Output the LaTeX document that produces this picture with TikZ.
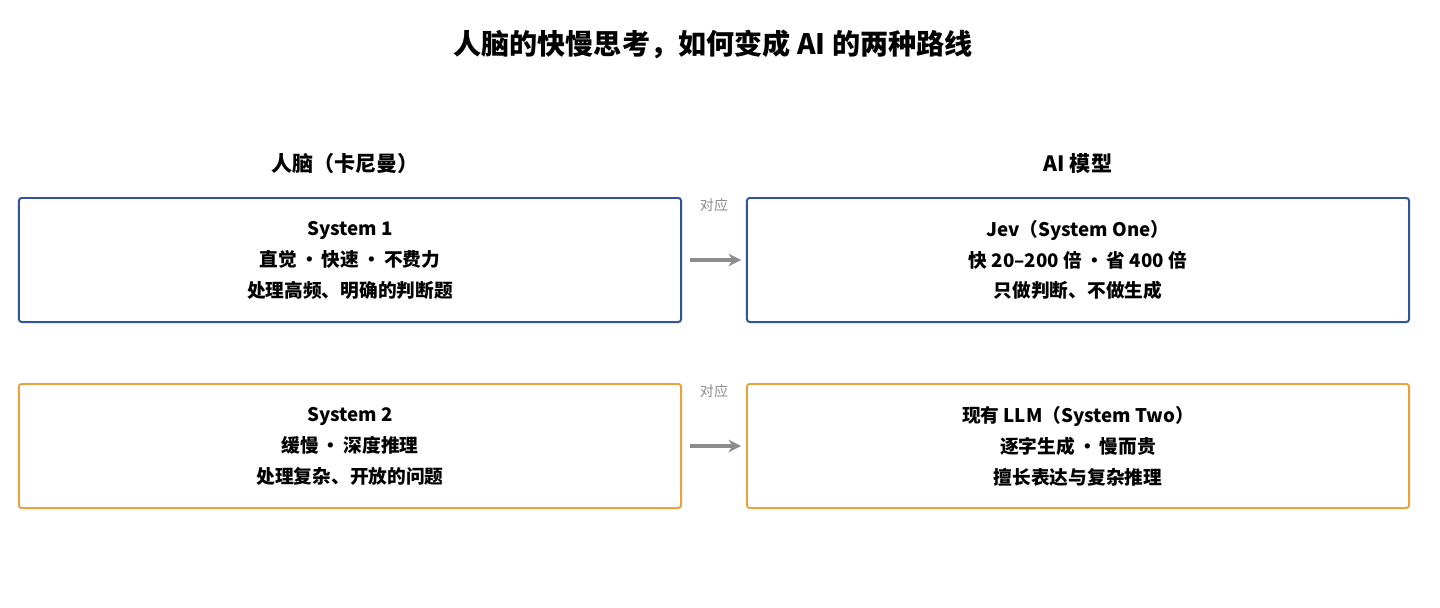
\documentclass[tikz,border=0pt]{standalone}
\usepackage{fontspec}
\setmainfont{Noto Sans CJK SC}
\usetikzlibrary{positioning,arrows.meta}
\definecolor{sysblue}{HTML}{2F5597}
\definecolor{sysorange}{HTML}{E8A33C}
\definecolor{linkgray}{HTML}{8C8C8C}
\tikzset{
	box/.style={draw, line width=1.4pt, rounded corners=2pt, minimum width=16.55cm, minimum height=3.1cm, align=center, font=\fontsize{13.3}{22}\selectfont\bfseries},
	head/.style={font=\fontsize{15}{17}\selectfont\bfseries},
	link/.style={-{Stealth[length=9pt,width=9pt]}, line width=2.4pt, draw=linkgray, shorten <=0.2cm, shorten >=0.12cm},
	tag/.style={font=\fontsize{10}{12}\selectfont, text=linkgray}
}
\begin{document}
\begin{tikzpicture}[x=0.025cm, y=-0.025cm]
	\useasboundingbox (0,0) rectangle (1440,607);
	\node[font=\fontsize{20}{24}\selectfont\bfseries] (title) at (713,44) {人脑的快慢思考，如何变成 AI 的两种路线};
	\node[head] (lefthead) at (345,163) {人脑（卡尼曼）};
	\node[head] (righthead) at (1078,163) {AI 模型};
	% 第一行
	\node[box, draw=sysblue] (sysone) at (350,260) {System 1\\直觉{\,}•{\,}快速{\,}•{\,}不费力\\处理高频、明确的判断题};
	\node[box, draw=sysblue] (jev) at (1078,260) {Jev（System One）\\快 20–200 倍{\,}•{\,}省 400 倍\\只做判断、不做生成};
	% 第二行
	\node[box, draw=sysorange] (systwo) at (350,446) {System 2\\缓慢{\,}•{\,}深度推理\\处理复杂、开放的问题};
	\node[box, draw=sysorange] (llm) at (1078,446) {现有 LLM（System Two）\\逐字生成{\,}•{\,}慢而贵\\擅长表达与复杂推理};
	\draw[link] (sysone) -- (jev);
	\draw[link] (systwo) -- (llm);
	\node[tag] (tagone) at (714,205) {对应};
	\node[tag] (tagtwo) at (714,391) {对应};
\end{tikzpicture}
\end{document}
